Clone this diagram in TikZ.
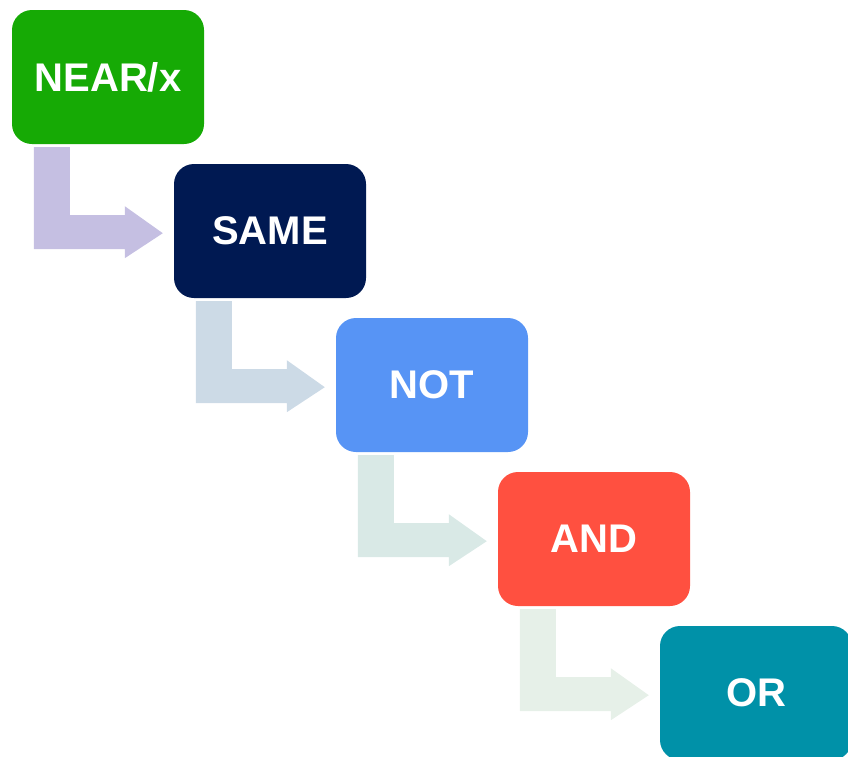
\documentclass[tikz,border=0pt]{standalone}
\usepackage{fontspec}
\setmainfont{Liberation Sans}
\usepackage{tikz}
\usetikzlibrary{calc}
\definecolor{neargreen}{RGB}{22,170,5}
\definecolor{samenavy}{RGB}{0,25,82}
\definecolor{notblue}{RGB}{87,148,245}
\definecolor{andred}{RGB}{255,80,64}
\definecolor{orteal}{RGB}{0,145,168}
\definecolor{arrowlilac}{RGB}{197,191,226}
\definecolor{arrowgrey}{RGB}{204,218,230}
\definecolor{arrowmint}{RGB}{217,233,230}
\definecolor{arrowpale}{RGB}{230,240,232}

\begin{document}
\begin{tikzpicture}[
    x=1pt, y=1pt,
    op/.style={rectangle, rounded corners=20pt, draw=none, minimum width=192pt, minimum height=134pt, inner sep=0pt, text=white, font=\fontsize{40}{44}\selectfont\bfseries},
    bentarrow/.style={draw=none}
]
    \useasboundingbox (0,0) rectangle (848,-756);

    % Operator boxes
    \node[op, fill=neargreen] (near) at (108, -77) {NEAR/x};
    \node[op, fill=samenavy] (same) at (270, -231) {SAME};
    \node[op, fill=notblue] (not) at (432, -385) {NOT};
    \node[op, fill=andred] (and) at (594, -539) {AND};
    \node[op, fill=orteal] (or) at (756, -693) {OR};

    % Bent arrows
    \foreach \from/\col in {near/arrowlilac, same/arrowgrey, not/arrowmint, and/arrowpale} {
        \fill[bentarrow, \col] ($(\from.south west)+(22,-3)$) -- ++(36,0) -- ++(0,-68) -- ++(55,0) -- ++(0,9)
            -- ++(38,-27) -- ++(-38,-25) -- ++(0,9) -- ++(-91,0) -- cycle;
    }
\end{tikzpicture}
\end{document}
